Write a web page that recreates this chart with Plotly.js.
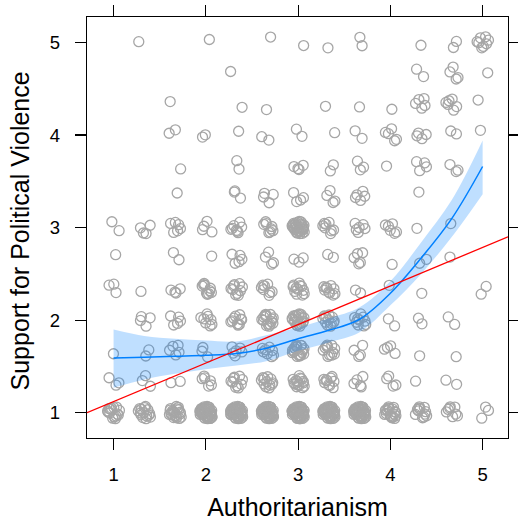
<!DOCTYPE html>
<html>
<head>
<meta charset="utf-8">
<script src="https://cdn.plot.ly/plotly-3.0.1.min.js"></script>
<style>html,body{margin:0;padding:0;background:#fff;}#chart{width:518px;height:529px;}</style>
</head>
<body>
<div id="chart"></div>
<script>
// Discrete response levels (both variables are averaged 1-5 scales in thirds)
const xLevels = [1, 1.333, 1.667, 2, 2.333, 2.667, 3, 3.333, 3.667, 4, 4.333, 4.667, 5];
const yLevels = [1, 1.333, 1.667, 2, 2.333, 2.667, 3, 3.333, 3.667, 4, 4.333, 4.667, 5];

// Number of respondents in each cell: one array per y level, entries follow xLevels
const countsY1_00 = [15, 15, 20, 50, 50, 50, 50, 40, 40, 20, 12, 8, 3];
const countsY1_33 = [3, 3, 2, 6, 10, 12, 15, 10, 5, 4, 1, 2, 0];
const countsY1_67 = [1, 2, 5, 3, 6, 8, 20, 12, 4, 4, 1, 1, 0];
const countsY2_00 = [0, 4, 5, 8, 10, 15, 20, 12, 10, 2, 2, 2, 0];
const countsY2_33 = [3, 1, 4, 10, 10, 8, 12, 10, 2, 1, 1, 0, 2];
const countsY2_67 = [1, 0, 2, 1, 5, 4, 3, 2, 5, 1, 2, 1, 0];
const countsY3_00 = [2, 4, 6, 4, 8, 8, 30, 8, 6, 6, 1, 1, 0];
const countsY3_33 = [0, 0, 1, 0, 3, 4, 4, 4, 5, 0, 1, 0, 0];
const countsY3_67 = [0, 0, 1, 0, 2, 0, 4, 2, 3, 1, 4, 3, 0];
const countsY4_00 = [0, 0, 2, 2, 1, 2, 2, 1, 2, 5, 4, 2, 1];
const countsY4_33 = [0, 0, 1, 0, 1, 1, 0, 1, 1, 1, 5, 6, 1];
const countsY4_67 = [0, 0, 0, 0, 1, 0, 0, 0, 0, 0, 2, 4, 1];
const countsY5_00 = [0, 1, 0, 1, 0, 1, 1, 1, 2, 0, 1, 2, 8];
const countRows = [countsY1_00, countsY1_33, countsY1_67, countsY2_00, countsY2_33, countsY2_67,
  countsY3_00, countsY3_33, countsY3_67, countsY4_00, countsY4_33, countsY4_67, countsY5_00];

// Loess fit with confidence band
const loessX = [1, 1.333, 1.667, 2, 2.333, 2.667, 3, 3.333, 3.667, 4, 4.333, 4.667, 5];
const loessY = [1.59, 1.60, 1.61, 1.62, 1.64, 1.70, 1.80, 1.89, 2.01, 2.29, 2.67, 3.10, 3.66];
const loessUpper = [1.90, 1.83, 1.80, 1.78, 1.77, 1.84, 1.92, 2.02, 2.14, 2.42, 2.84, 3.30, 3.94];
const loessLower = [1.27, 1.36, 1.42, 1.47, 1.51, 1.56, 1.67, 1.76, 1.87, 2.16, 2.50, 2.90, 3.36];

// Linear fit drawn across the whole panel
const lineX = [0.712, 5.275];
const lineY = [1.00, 2.90];

// Fixed jitter pattern (fractions of the jitter amount), display only
const jitterX = [0.62,-0.35,0.11,-0.88,0.47,-0.14,0.93,-0.61,0.28,-0.47,0.75,-0.95,0.04,0.39,-0.72,0.85,-0.23,0.56,-0.08,-0.53,
  0.19,0.97,-0.31,0.68,-0.79,0.33,-0.02,0.81,-0.66,0.14,-0.42,0.51,-0.9,0.24,0.72,-0.18,0.44,-0.58,0.88,-0.27];
const jitterY = [-0.21,0.74,-0.63,0.12,0.9,-0.86,0.37,-0.04,-0.95,0.55,-0.38,0.28,0.82,-0.52,0.66,-0.15,-0.77,0.47,0.03,-0.33,
  0.99,-0.69,0.21,-0.91,0.41,0.6,-0.44,0.08,-0.12,-0.58,0.31,0.86,-0.27,-0.8,0.17,0.64,-0.67,0.52,-0.49,0.93];
const jitterAmount = 0.068;

const px = [], py = [];
countRows.forEach((row, r) => {
  row.forEach((n, c) => {
    for (let i = 0; i < n; i++) {
      const k = (i + 13 * r + 7 * c) % jitterX.length;
      px.push(xLevels[c] + jitterAmount * jitterX[k]);
      py.push(yLevels[r] + jitterAmount * jitterY[k]);
    }
  });
});

const font = "Liberation Sans, Arial, sans-serif";

const traces = [
  {x: px, y: py, type: 'scatter', mode: 'markers', hoverinfo: 'skip',
   marker: {symbol: 'circle-open', size: 10, color: '#a6a6a6', line: {width: 1.3, color: '#a6a6a6'}}},
  {x: loessX, y: loessLower, type: 'scatter', mode: 'lines', line: {width: 0, shape: 'spline'}, hoverinfo: 'skip'},
  {x: loessX, y: loessUpper, type: 'scatter', mode: 'lines', line: {width: 0, shape: 'spline'},
   fill: 'tonexty', fillcolor: 'rgba(0,128,255,0.25)', hoverinfo: 'skip'},
  {x: loessX, y: loessY, type: 'scatter', mode: 'lines', line: {color: '#0080ff', width: 1.5, shape: 'spline'}},
  {x: lineX, y: lineY, type: 'scatter', mode: 'lines', line: {color: '#ff0000', width: 1.3}}
];

const axisCommon = {
  showgrid: false, zeroline: false, showline: true, linecolor: '#000', linewidth: 1.2,
  mirror: 'ticks', ticks: 'outside', ticklen: 11, tickwidth: 1.2, tickcolor: '#000',
  tickvals: [1, 2, 3, 4, 5], ticktext: ['1', '2', '3', '4', '5'],
  tickfont: {family: font, size: 18.5, color: '#000'}
};

const layout = {
  width: 518, height: 529,
  margin: {l: 87, r: 10, t: 17, b: 91},
  paper_bgcolor: '#fff', plot_bgcolor: '#fff',
  showlegend: false,
  font: {family: font, color: '#000'},
  xaxis: Object.assign({}, axisCommon, {
    range: [0.712, 5.275], ticklabelstandoff: 9,
    title: {text: 'Authoritarianism', font: {family: font, size: 25, color: '#000'}, standoff: 14}
  }),
  yaxis: Object.assign({}, axisCommon, {
    range: [0.727, 5.275], ticklabelstandoff: 11
  }),
  annotations: [{
    text: 'Support for Political Violence', xref: 'paper', yref: 'paper', x: 0, y: 0.5,
    xanchor: 'center', yanchor: 'middle', xshift: -68, yshift: -4, textangle: -90, showarrow: false,
    font: {family: font, size: 25, color: '#000'}
  }]
};

Plotly.newPlot('chart', traces, layout, {displayModeBar: false, staticPlot: true});
</script>
</body>
</html>
